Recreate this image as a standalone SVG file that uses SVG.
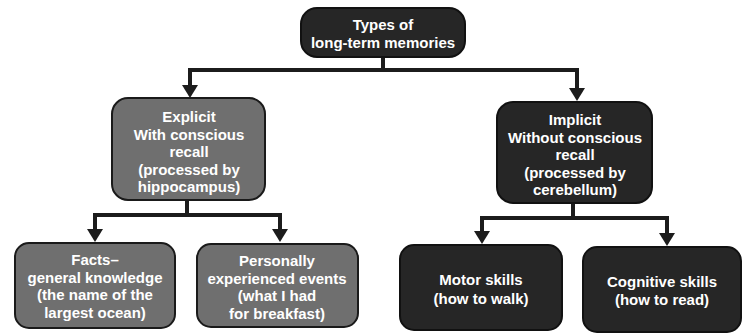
<svg xmlns="http://www.w3.org/2000/svg" width="744" height="334" viewBox="0 0 744 334">
<defs>
<style>
.dark{fill:#262626;stroke:#111;stroke-width:2}
.gray{fill:#6f6f6f;stroke:#1a1a1a;stroke-width:2}
.t{fill:#fff;font-family:"Liberation Sans",Arial,sans-serif;font-weight:bold;font-size:15px;text-anchor:middle}
.c{fill:none;stroke:#1c1c1c;stroke-width:4}
.ah{fill:#1c1c1c}
</style>
</defs>
<rect width="744" height="334" fill="#fff"/>
<g id="connectors">
<path class="c" d="M383 57V70M190 70H577M190 68V88M577 68V90"/>
<polygon class="ah" points="182,85 198,85 190,98"/>
<polygon class="ah" points="569,88 585,88 577,101"/>
<path class="c" d="M187 200V215M95 215H280M95 213V232M280 213V232"/>
<polygon class="ah" points="87,229 103,229 95,242"/>
<polygon class="ah" points="272,229 288,229 280,242"/>
<path class="c" d="M573 203V218M482 218H667M482 216V234M667 216V234"/>
<polygon class="ah" points="474,231 490,231 482,244"/>
<polygon class="ah" points="659,233 675,233 667,246"/>
</g>
<g id="n-types">
<rect class="dark" x="301" y="8" width="164" height="49" rx="16"/>
<text class="t" x="383" y="30">Types of</text>
<text class="t" x="383" y="48">long-term memories</text>
</g>
<g id="n-explicit">
<rect class="gray" x="112" y="98" width="153" height="102" rx="16"/>
<text class="t" x="189" y="122">Explicit</text>
<text class="t" x="189" y="139.5">With conscious</text>
<text class="t" x="189" y="157">recall</text>
<text class="t" x="189" y="174.5">(processed by</text>
<text class="t" x="189" y="192">hippocampus)</text>
</g>
<g id="n-implicit">
<rect class="dark" x="497" y="102" width="155" height="101" rx="16"/>
<text class="t" x="575" y="125">Implicit</text>
<text class="t" x="575" y="142.5">Without conscious</text>
<text class="t" x="575" y="160">recall</text>
<text class="t" x="575" y="177.5">(processed by</text>
<text class="t" x="575" y="195">cerebellum)</text>
</g>
<g id="n-facts">
<rect class="gray" x="15" y="243" width="160" height="85" rx="14"/>
<text class="t" x="95" y="265">Facts–</text>
<text class="t" x="95" y="282.5">general knowledge</text>
<text class="t" x="95" y="300">(the name of the</text>
<text class="t" x="95" y="317.5">largest ocean)</text>
</g>
<g id="n-personal">
<rect class="gray" x="197" y="244" width="161" height="83" rx="14"/>
<text class="t" x="277" y="266">Personally</text>
<text class="t" x="277" y="283.5">experienced events</text>
<text class="t" x="277" y="301">(what I had</text>
<text class="t" x="277" y="318.5">for breakfast)</text>
</g>
<g id="n-motor">
<rect class="dark" x="400" y="245" width="162" height="85" rx="14"/>
<text class="t" x="481" y="285">Motor skills</text>
<text class="t" x="481" y="304">(how to walk)</text>
</g>
<g id="n-cognitive">
<rect class="dark" x="583" y="247" width="158" height="85" rx="14"/>
<text class="t" x="662" y="287">Cognitive skills</text>
<text class="t" x="662" y="305">(how to read)</text>
</g>
</svg>
